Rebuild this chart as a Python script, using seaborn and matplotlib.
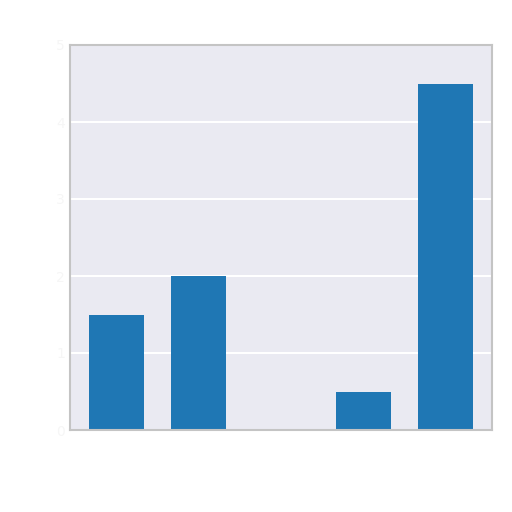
import matplotlib
matplotlib.use("Agg")
import matplotlib.pyplot as plt
import seaborn as sns
import pandas as pd

# data
categories = ["A", "B", "C", "D", "E"]
values = [1.5, 2.0, 0.0, 0.5, 4.5]

df = pd.DataFrame({"category": categories, "value": values})

sns.set_theme(style="darkgrid")
fig = plt.figure(figsize=(5.12, 5.12), dpi=100)
ax = fig.add_axes([70 / 512, 1 - 430 / 512, 422 / 512, 385 / 512])

sns.barplot(data=df, x="category", y="value", color="#1f77b4", saturation=1,
            width=0.67, linewidth=0, ax=ax)

ax.set_xlim(-0.57, 4.57)
ax.set_ylim(0, 5)
ax.set_yticks([0, 1, 2, 3, 4, 5])
ax.grid(axis="x", visible=False)
ax.grid(axis="y", color="white", linewidth=1.5)
ax.set_xlabel("")
ax.set_ylabel("")
ax.set_xticks([])
ax.tick_params(axis="y", colors="#f6f6f6", labelsize=10, length=0)
for s in ax.spines.values():
    s.set_visible(True)
    s.set_color("#c4c4c4")
    s.set_linewidth(1.5)

fig.savefig("out.png", dpi=100)
